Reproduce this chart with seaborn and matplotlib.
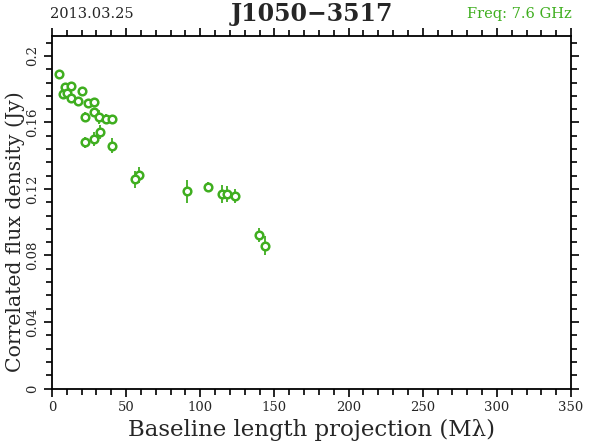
import numpy as np
import pandas as pd
import matplotlib
matplotlib.use("Agg")
import matplotlib.pyplot as plt
import seaborn as sns
from matplotlib.ticker import MultipleLocator

baseline = [4.9, 8.8, 12.8, 20.0, 7.2, 10.3, 12.8, 17.8, 24.5, 28.5, 28.5, 22.3, 31.9,
            36.4, 40.2, 32.4, 28.3, 22.3, 40.2, 58.9, 56.2, 91.2, 105.4, 114.4, 117.8,
            123.4, 139.6, 143.6]
flux = [0.189, 0.1815, 0.182, 0.179, 0.177, 0.178, 0.1745, 0.173, 0.1715, 0.1725, 0.166,
        0.1635, 0.1635, 0.162, 0.162, 0.1545, 0.150, 0.148, 0.146, 0.1284, 0.1258, 0.1186,
        0.1212, 0.117, 0.1168, 0.1158, 0.0923, 0.086]
flux_err = [0.0022, 0.0018, 0.0018, 0.0018, 0.003, 0.0018, 0.0021, 0.0018, 0.0027, 0.0021,
            0.0024, 0.003, 0.0042, 0.003, 0.0018, 0.0042, 0.0043, 0.0033, 0.0045, 0.005,
            0.005, 0.007, 0.003, 0.0052, 0.0048, 0.0043, 0.004, 0.0058]

xticks = [0, 50, 100, 150, 200, 250, 300, 350]
yticks = [0, 0.04, 0.08, 0.12, 0.16, 0.2]
ytick_labels = ["0", "0.04", "0.08", "0.12", "0.16", "0.2"]

title = "J1050\u22123517"
date_text = "2013.03.25"
freq_text = "Freq: 7.6 GHz"
xlabel = "Baseline length projection (M\u03bb)"
ylabel = "Correlated flux density (Jy)"

green = "#3fae1f"

sns.set_style("ticks")
plt.rcParams["font.family"] = ["DejaVu Serif"]

df = pd.DataFrame({"baseline": baseline, "flux": flux, "err": flux_err})

fig = plt.figure(figsize=(5.9, 4.43), dpi=100)
ax = fig.add_axes([52 / 590, 1 - 388.5 / 443, (571 - 52) / 590, (388.5 - 36) / 443])

ax.errorbar(df["baseline"], df["flux"], yerr=df["err"], fmt="none", ecolor=green,
            elinewidth=1.3, capsize=0, zorder=2)
sns.scatterplot(data=df, x="baseline", y="flux", ax=ax, marker="o", s=30,
                facecolor="white", edgecolor=green, linewidth=1.8, zorder=3)

ax.set_xlim(0, 350)
ax.set_ylim(0, 0.212)
ax.set_xticks(xticks)
ax.set_xticklabels([str(t) for t in xticks], fontsize=9.5)
ax.set_yticks(yticks)
ax.set_yticklabels(ytick_labels, fontsize=9.5, rotation=90, va="center")
ax.xaxis.set_minor_locator(MultipleLocator(10))
ax.yaxis.set_minor_locator(MultipleLocator(0.008))
ax.tick_params(which="both", direction="out", top=True, right=True, color="black",
               width=1.2)
ax.tick_params(which="major", length=6, pad=3)
ax.tick_params(which="minor", length=4)
ax.tick_params(axis="x", labeltop=False)
ax.tick_params(axis="y", labelright=False)
for s in ax.spines.values():
    s.set_visible(True)
    s.set_linewidth(1.3)
    s.set_color("black")

ax.set_xlabel(xlabel, fontsize=16.5)
ax.set_ylabel(ylabel, fontsize=14.7)
ax.xaxis.set_label_coords((312 - 52) / 519, -(430 - 388.5) / 352.5)
ax.yaxis.set_label_coords(-(52 - 15) / 519, (388.5 - 232) / 352.5)
ax.xaxis.label.set_va("center")
ax.yaxis.label.set_va("center")

fig.text(312 / 590, 1 - 14 / 443, title, fontsize=17, fontweight="bold",
         ha="center", va="center")
fig.text(50 / 590, 1 - 14 / 443, date_text, fontsize=10.5, ha="left", va="center")
fig.text(572 / 590, 1 - 14 / 443, freq_text, fontsize=10.5, ha="right", va="center",
         color=green)

fig.savefig("out.png", dpi=100)
